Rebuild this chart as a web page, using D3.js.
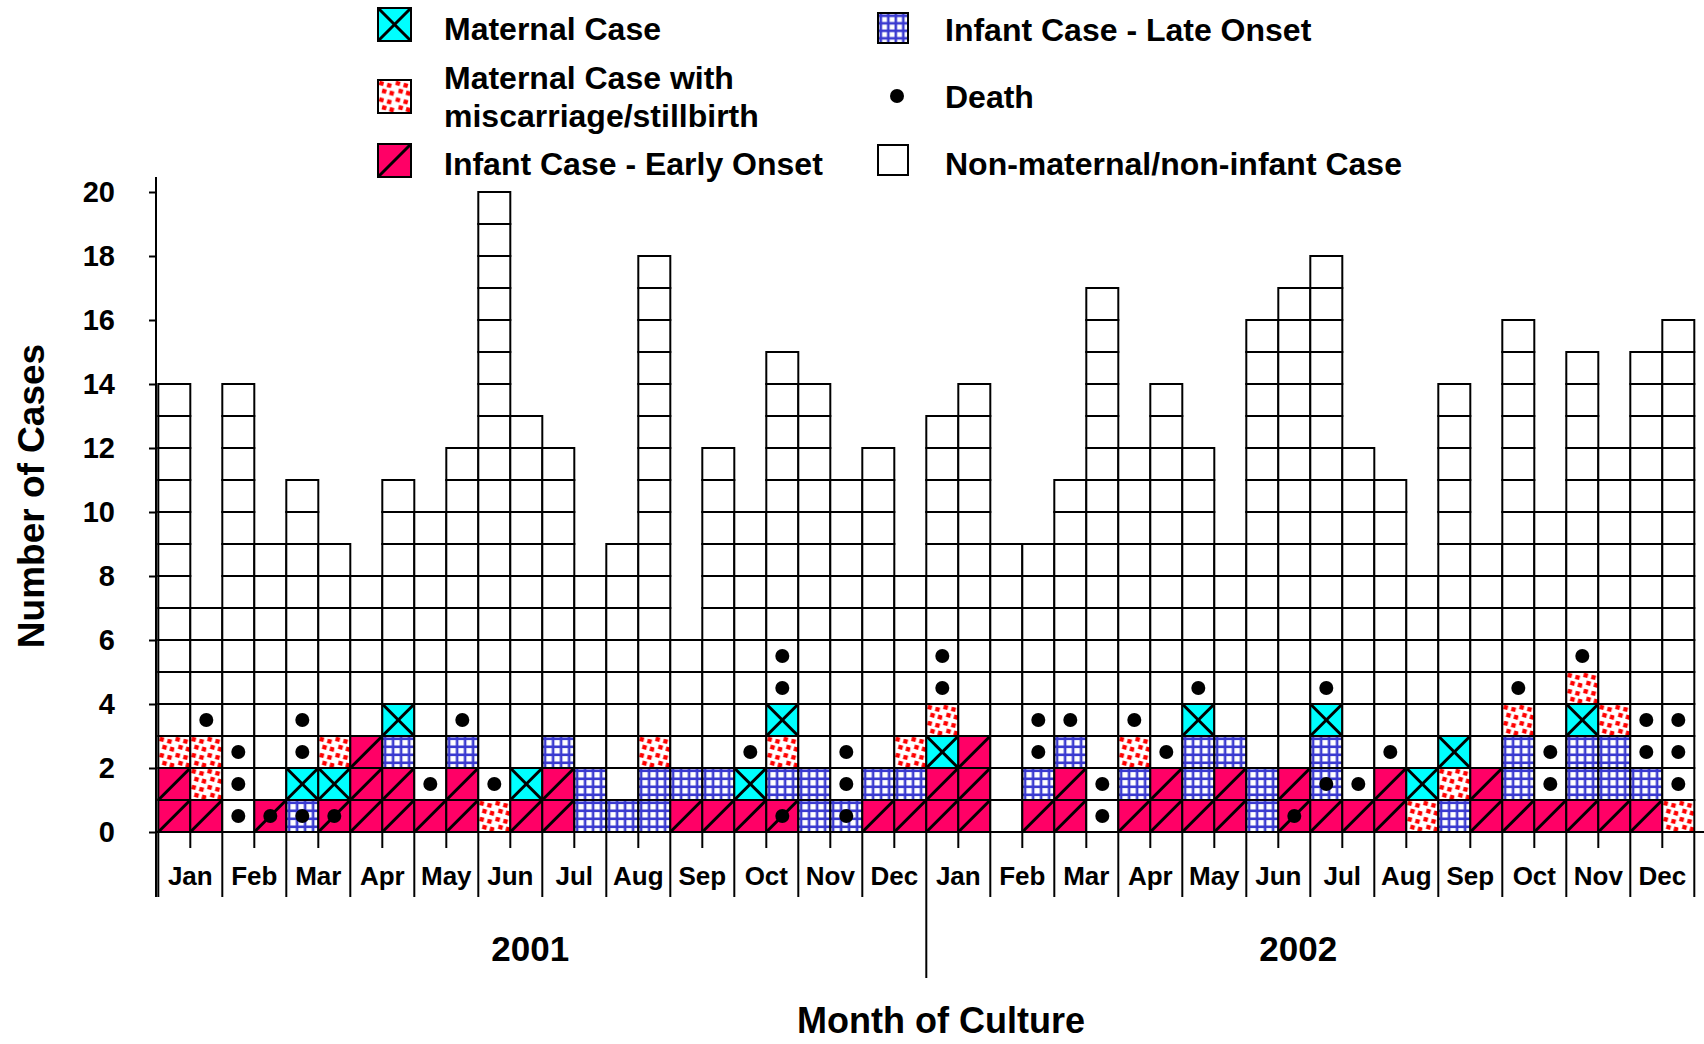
<!DOCTYPE html>
<html>
<head>
<meta charset="utf-8">
<script src="https://cdn.jsdelivr.net/npm/d3@7"></script>
<style>
  body { margin: 0; background: #fff; }
  text { font-family: "Liberation Sans", Arial, sans-serif; font-weight: bold; fill: #000; }
</style>
</head>
<body>
<svg id="chart" width="1704" height="1044"></svg>
<script>
// two half-month columns per month, Jan 2001 .. Dec 2002
const months = ["Jan", "Feb", "Mar", "Apr", "May", "Jun", "Jul", "Aug", "Sep", "Oct", "Nov", "Dec"];
const years = ["2001", "2002"];
const yTicks = [0, 2, 4, 6, 8, 10, 12, 14, 16, 18, 20];

// total cases per half-month
const totals = [14, 7, 14, 9, 11, 9, 8, 11, 10, 12, 20, 13, 12, 8, 9, 18, 6, 12, 10, 15, 14, 11, 12, 8,
                13, 14, 9, 9, 11, 17, 12, 14, 12, 9, 16, 17, 18, 12, 11, 8, 14, 9, 16, 10, 15, 12, 15, 16];

// coloured cells from the bottom up (E early onset, L late onset, M maternal, S miscarriage/stillbirth)
// the rest of each column is non-maternal/non-infant
const cellTypes = ["EES", "ESS", "", "E", "LM", "EMS", "EEE", "EELM", "E", "EEL", "S", "EM",
                   "EEL", "LL", "L", "LLS", "EL", "EL", "EM", "ELSM", "LL", "L", "EL", "ELS",
                   "EEMS", "EEE", "", "EL", "EEL", "", "ELS", "EE", "ELLM", "EEL", "LL", "EE",
                   "ELLM", "E", "EE", "SM", "LSM", "EE", "ELLS", "E", "ELLMS", "ELLS", "EL", "S"];

// rows (0 = bottom) holding a death dot
const deathRows = [[], [3], [0, 1, 2], [0], [0, 2, 3], [0], [], [], [1], [3], [1], [],
                   [], [], [], [], [], [], [2], [0, 4, 5], [], [0, 1, 2], [], [],
                   [4, 5], [], [], [2, 3], [3], [0, 1], [3], [2], [4], [], [], [0],
                   [1, 4], [1], [2], [], [], [], [4], [1, 2], [5], [], [2, 3], [1, 2, 3]];

const legendLeft = [
  { type: "M", lines: ["Maternal Case"] },
  { type: "S", lines: ["Maternal Case with", "miscarriage/stillbirth"] },
  { type: "E", lines: ["Infant Case - Early Onset"] }
];
const legendRight = [
  { type: "L", lines: ["Infant Case - Late Onset"] },
  { type: "D", lines: ["Death"] },
  { type: "N", lines: ["Non-maternal/non-infant Case"] }
];

const svg = d3.select("#chart");
const nCols = totals.length;
const base = 832;

const x = d3.scaleBand().domain(d3.range(nCols)).range([158.3, 1694.3]);
const y = d3.scaleLinear().domain([0, 20]).range([base, 192]);

// patterns
const defs = svg.append("defs");
const late = defs.append("pattern").attr("id", "late")
  .attr("patternUnits", "objectBoundingBox").attr("width", 0.25).attr("height", 0.25)
  .attr("patternContentUnits", "userSpaceOnUse");
late.append("rect").attr("width", 40).attr("height", 40).attr("fill", "#fff");
late.append("rect").attr("x", 1.5).attr("y", 0).attr("width", 2.6).attr("height", 40).attr("fill", "#3a3ad0");
late.append("rect").attr("x", 0).attr("y", 1.5).attr("width", 40).attr("height", 2.6).attr("fill", "#3a3ad0");

const misc = defs.append("pattern").attr("id", "misc")
  .attr("patternUnits", "objectBoundingBox").attr("width", 0.5).attr("height", 0.5)
  .attr("patternContentUnits", "userSpaceOnUse");
misc.append("rect").attr("width", 40).attr("height", 40).attr("fill", "#fff");
[[1.2, 1.2], [9, 3.2], [4, 9], [11.5, 11]].forEach(p => {
  misc.append("rect").attr("x", p[0]).attr("y", p[1]).attr("width", 4.4).attr("height", 4.4)
    .attr("fill", "#ff0000")
    .attr("transform", `rotate(15 ${p[0] + 2.2} ${p[1] + 2.2})`);
});

const fills = { E: "#ff0066", L: "url(#late)", M: "#00ffff", S: "url(#misc)", N: "#fff" };

// one cell per case
const cells = d3.range(nCols).flatMap(i =>
  d3.range(totals[i]).map(k => ({ col: i, row: k, type: cellTypes[i][k] || "N" })));

const g = svg.append("g");
const w = x.bandwidth();
const h = y(0) - y(1);

function drawCell(sel, t, x0, y0, cw, ch) {
  sel.append("rect").attr("x", x0).attr("y", y0).attr("width", cw).attr("height", ch)
    .attr("fill", fills[t]).attr("stroke", "#000").attr("stroke-width", 2);
  if (t === "E" || t === "M") {
    sel.append("line").attr("x1", x0).attr("y1", y0 + ch).attr("x2", x0 + cw).attr("y2", y0)
      .attr("stroke", "#000").attr("stroke-width", 3);
  }
  if (t === "M") {
    sel.append("line").attr("x1", x0).attr("y1", y0).attr("x2", x0 + cw).attr("y2", y0 + ch)
      .attr("stroke", "#000").attr("stroke-width", 3);
  }
}

cells.forEach(c => {
  drawCell(g, c.type, x(c.col), y(c.row + 1), w, h);
});

// deaths
const deaths = d3.range(nCols).flatMap(i => deathRows[i].map(r => ({ col: i, row: r })));
g.selectAll("circle.death").data(deaths).enter().append("circle")
  .attr("class", "death")
  .attr("cx", d => x(d.col) + w / 2)
  .attr("cy", d => y(d.row + 0.5))
  .attr("r", 7)
  .attr("fill", "#000");

// baseline and x ticks
svg.append("line").attr("x1", 156).attr("x2", 1704).attr("y1", base).attr("y2", base)
  .attr("stroke", "#000").attr("stroke-width", 2);
d3.range(nCols + 1).forEach(i => {
  const xx = i < nCols ? x(i) : x(nCols - 1) + w;
  let y2 = base + 16;
  if (i % 2 === 0) y2 = 897;
  if (i === 24) y2 = 978;
  svg.append("line").attr("x1", xx).attr("x2", xx).attr("y1", base).attr("y2", y2)
    .attr("stroke", "#000").attr("stroke-width", 2);
});

// month labels
d3.range(nCols / 2).forEach(m => {
  svg.append("text")
    .attr("x", x(m * 2) + w)
    .attr("y", 885)
    .attr("text-anchor", "middle")
    .attr("font-size", 26)
    .text(months[m % 12]);
});

// year labels
years.forEach((yr, j) => {
  svg.append("text")
    .attr("x", (x(j * 24) + x(j * 24 + 23) + w) / 2 - 12)
    .attr("y", 961)
    .attr("text-anchor", "middle")
    .attr("font-size", 35)
    .text(yr);
});

// y axis
const yAxis = svg.append("g").attr("transform", "translate(156,0)")
  .call(d3.axisLeft(y).tickValues(yTicks).tickSize(7).tickPadding(34));
yAxis.select(".domain").remove();
yAxis.selectAll(".tick line").attr("stroke", "#000").attr("stroke-width", 2);
yAxis.selectAll(".tick text")
  .attr("font-size", 29).attr("font-weight", "bold")
  .attr("font-family", "'Liberation Sans', Arial, sans-serif").attr("fill", "#000");
svg.append("line").attr("x1", 156).attr("x2", 156).attr("y1", 177).attr("y2", 897)
  .attr("stroke", "#000").attr("stroke-width", 2);

// axis titles
svg.append("text")
  .attr("transform", "translate(44,496) rotate(-90)")
  .attr("text-anchor", "middle")
  .attr("font-size", 37)
  .text("Number of Cases");
svg.append("text")
  .attr("x", 941).attr("y", 1033)
  .attr("text-anchor", "middle")
  .attr("font-size", 36)
  .text("Month of Culture");

// legend
const leftY = [8, 80, 144];
const leftBase = [[40], [89, 127], [175]];
legendLeft.forEach((item, j) => {
  const lg = svg.append("g");
  drawCell(lg, item.type, 378, leftY[j], 33, 33);
  item.lines.forEach((ln, k) => {
    lg.append("text").attr("x", 444).attr("y", leftBase[j][k]).attr("font-size", 32).text(ln);
  });
});
const rightY = [13, 80, 145];
const rightBase = [41, 108, 175];
legendRight.forEach((item, j) => {
  const lg = svg.append("g");
  if (item.type === "D") {
    lg.append("circle").attr("cx", 897).attr("cy", 96).attr("r", 7).attr("fill", "#000");
  } else {
    drawCell(lg, item.type, 878, rightY[j], 30, 30);
  }
  lg.append("text").attr("x", 945).attr("y", rightBase[j]).attr("font-size", 32).text(item.lines[0]);
});
</script>
</body>
</html>
